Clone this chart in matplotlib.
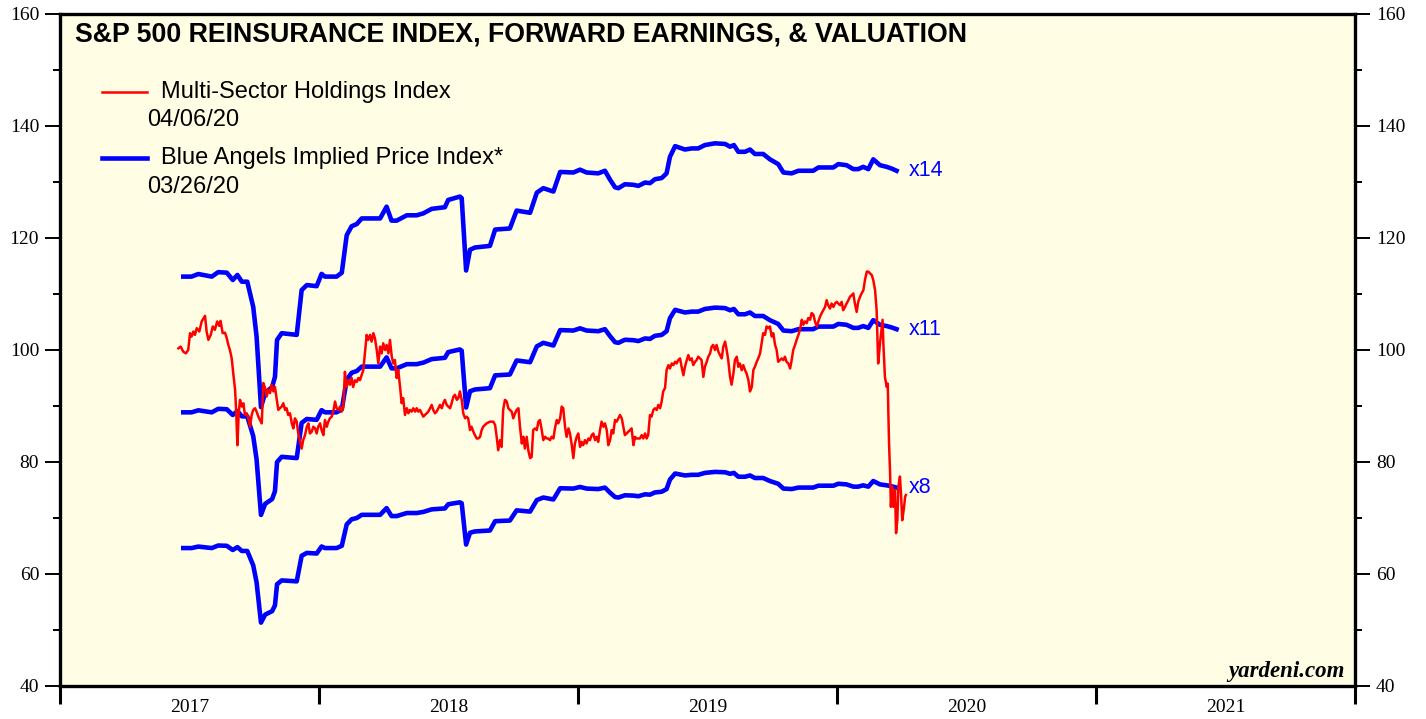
import matplotlib
matplotlib.use('Agg')
import matplotlib.pyplot as plt
from matplotlib.ticker import MultipleLocator, FixedLocator, NullFormatter, FixedFormatter

# Multi-Sector Holdings Index (daily), x in decimal years
msh_year = [
    2017.457, 2017.466, 2017.476, 2017.486, 2017.495, 2017.502, 2017.508, 2017.515, 2017.521, 2017.528,
    2017.538, 2017.547, 2017.560, 2017.566, 2017.573, 2017.582, 2017.590, 2017.598, 2017.607, 2017.615,
    2017.620, 2017.628, 2017.637, 2017.644, 2017.650, 2017.656, 2017.663, 2017.669, 2017.676, 2017.680,
    2017.685, 2017.690, 2017.695, 2017.702, 2017.708, 2017.714, 2017.721, 2017.727, 2017.734, 2017.740,
    2017.746, 2017.753, 2017.759, 2017.766, 2017.772, 2017.779, 2017.785, 2017.792, 2017.798, 2017.804,
    2017.811, 2017.817, 2017.824, 2017.830, 2017.837, 2017.843, 2017.849, 2017.856, 2017.862, 2017.869,
    2017.875, 2017.881, 2017.888, 2017.895, 2017.901, 2017.907, 2017.914, 2017.920, 2017.927, 2017.933,
    2017.939, 2017.946, 2017.953, 2017.959, 2017.965, 2017.972, 2017.978, 2017.985, 2017.991, 2017.997,
    2018.004, 2018.010, 2018.017, 2018.023, 2018.030, 2018.036, 2018.042, 2018.049, 2018.055, 2018.062,
    2018.068, 2018.075, 2018.081, 2018.088, 2018.094, 2018.100, 2018.107, 2018.113, 2018.120, 2018.126,
    2018.132, 2018.139, 2018.146, 2018.152, 2018.158, 2018.171, 2018.178, 2018.184, 2018.190, 2018.197,
    2018.203, 2018.210, 2018.216, 2018.223, 2018.229, 2018.236, 2018.242, 2018.248, 2018.255, 2018.261,
    2018.268, 2018.274, 2018.281, 2018.287, 2018.293, 2018.300, 2018.306, 2018.313, 2018.319, 2018.325,
    2018.332, 2018.339, 2018.345, 2018.351, 2018.358, 2018.364, 2018.371, 2018.377, 2018.383, 2018.390,
    2018.396, 2018.403, 2018.409, 2018.416, 2018.422, 2018.429, 2018.435, 2018.441, 2018.448, 2018.454,
    2018.461, 2018.467, 2018.474, 2018.480, 2018.486, 2018.493, 2018.499, 2018.506, 2018.512, 2018.519,
    2018.525, 2018.532, 2018.538, 2018.544, 2018.551, 2018.557, 2018.564, 2018.570, 2018.576, 2018.583,
    2018.589, 2018.596, 2018.602, 2018.609, 2018.615, 2018.622, 2018.628, 2018.634, 2018.647, 2018.660,
    2018.673, 2018.680, 2018.686, 2018.692, 2018.699, 2018.705, 2018.711, 2018.718, 2018.725, 2018.731,
    2018.737, 2018.744, 2018.750, 2018.757, 2018.763, 2018.770, 2018.776, 2018.783, 2018.789, 2018.795,
    2018.802, 2018.808, 2018.815, 2018.821, 2018.827, 2018.834, 2018.841, 2018.847, 2018.853, 2018.860,
    2018.866, 2018.873, 2018.879, 2018.885, 2018.892, 2018.898, 2018.905, 2018.911, 2018.918, 2018.924,
    2018.931, 2018.937, 2018.943, 2018.950, 2018.956, 2018.963, 2018.969, 2018.976, 2018.982, 2018.988,
    2018.995, 2019.001, 2019.008, 2019.014, 2019.020, 2019.027, 2019.033, 2019.040, 2019.046, 2019.053,
    2019.059, 2019.066, 2019.072, 2019.078, 2019.085, 2019.091, 2019.098, 2019.104, 2019.111, 2019.117,
    2019.124, 2019.130, 2019.136, 2019.143, 2019.149, 2019.156, 2019.162, 2019.169, 2019.175, 2019.181,
    2019.188, 2019.194, 2019.201, 2019.207, 2019.214, 2019.220, 2019.226, 2019.239, 2019.246, 2019.252,
    2019.259, 2019.265, 2019.271, 2019.278, 2019.284, 2019.291, 2019.297, 2019.304, 2019.310, 2019.317,
    2019.323, 2019.329, 2019.336, 2019.342, 2019.349, 2019.355, 2019.362, 2019.368, 2019.375, 2019.381,
    2019.387, 2019.394, 2019.400, 2019.407, 2019.413, 2019.420, 2019.426, 2019.432, 2019.439, 2019.445,
    2019.452, 2019.458, 2019.464, 2019.471, 2019.477, 2019.484, 2019.490, 2019.497, 2019.503, 2019.510,
    2019.516, 2019.522, 2019.529, 2019.535, 2019.542, 2019.548, 2019.555, 2019.561, 2019.568, 2019.574,
    2019.580, 2019.587, 2019.593, 2019.600, 2019.606, 2019.613, 2019.619, 2019.625, 2019.632, 2019.638,
    2019.645, 2019.651, 2019.658, 2019.664, 2019.671, 2019.677, 2019.683, 2019.690, 2019.696, 2019.703,
    2019.709, 2019.715, 2019.722, 2019.728, 2019.735, 2019.741, 2019.748, 2019.754, 2019.761, 2019.767,
    2019.773, 2019.780, 2019.786, 2019.793, 2019.799, 2019.805, 2019.812, 2019.819, 2019.825, 2019.831,
    2019.838, 2019.844, 2019.851, 2019.857, 2019.864, 2019.870, 2019.876, 2019.883, 2019.889, 2019.896,
    2019.902, 2019.909, 2019.915, 2019.922, 2019.928, 2019.934, 2019.941, 2019.947, 2019.954, 2019.960,
    2019.966, 2019.973, 2019.979, 2019.986, 2019.992, 2019.999, 2020.005, 2020.012, 2020.018, 2020.024,
    2020.031, 2020.037, 2020.044, 2020.050, 2020.057, 2020.063, 2020.069, 2020.076, 2020.082, 2020.089,
    2020.095, 2020.102, 2020.108, 2020.115, 2020.121, 2020.127, 2020.134, 2020.140, 2020.147, 2020.153,
    2020.159, 2020.166, 2020.173, 2020.176, 2020.179, 2020.185, 2020.192, 2020.196, 2020.198, 2020.201,
    2020.205, 2020.208, 2020.213, 2020.217, 2020.224, 2020.228, 2020.233, 2020.237, 2020.243, 2020.247,
    2020.252, 2020.259, 2020.263, 2020.266,
]
msh_idx = [
    100.3, 100.6, 99.7, 99.4, 100.0, 103.0, 102.4, 103.3, 102.7, 103.9,
    103.3, 105.1, 106.1, 103.3, 101.8, 102.7, 104.2, 103.6, 105.1, 104.3,
    105.2, 103.0, 103.1, 102.1, 100.9, 100.0, 98.5, 95.8, 92.9, 89.3,
    83.0, 88.7, 91.1, 89.9, 90.5, 88.4, 88.7, 87.8, 86.3, 88.4,
    89.3, 89.6, 89.0, 88.1, 87.5, 86.9, 94.1, 93.2, 91.7, 92.9,
    92.3, 93.8, 92.6, 93.4, 91.1, 89.3, 89.6, 89.9, 90.5, 89.3,
    89.6, 88.4, 88.7, 86.9, 86.0, 87.8, 87.2, 85.1, 83.6, 82.4,
    83.9, 84.8, 86.3, 86.9, 85.1, 85.4, 86.3, 86.0, 85.1, 86.3,
    86.9, 85.7, 84.8, 87.5, 86.3, 87.2, 87.8, 88.1, 89.0, 90.8,
    89.6, 89.3, 89.9, 89.0, 89.9, 96.1, 93.4, 94.6, 93.8, 95.0,
    93.4, 94.6, 94.3, 95.0, 94.6, 96.4, 99.7, 102.7, 101.8, 102.7,
    101.5, 103.0, 102.1, 100.0, 97.6, 100.6, 99.4, 101.2, 100.0, 100.9,
    99.4, 101.8, 98.8, 97.6, 98.2, 95.0, 96.4, 93.4, 90.5, 91.4,
    88.4, 89.6, 88.7, 89.3, 89.0, 89.6, 89.0, 89.6, 89.0, 89.3,
    88.7, 88.1, 88.4, 88.7, 89.0, 89.6, 90.2, 89.3, 88.7, 89.0,
    89.6, 90.2, 89.6, 90.5, 91.1, 90.2, 89.9, 89.6, 90.5, 91.7,
    92.0, 91.1, 91.4, 92.6, 91.1, 88.7, 87.8, 88.1, 87.8, 85.7,
    86.3, 85.4, 84.8, 84.2, 84.2, 84.5, 85.7, 86.3, 86.9, 87.2,
    87.2, 86.6, 84.5, 82.1, 83.9, 82.7, 89.3, 91.1, 90.8, 89.6,
    89.3, 89.0, 87.8, 88.7, 89.3, 89.6, 86.3, 83.3, 84.5, 82.4,
    84.5, 82.1, 80.7, 80.9, 85.7, 86.0, 85.7, 87.2, 87.5, 85.7,
    83.9, 84.5, 84.2, 84.2, 83.9, 84.5, 84.2, 86.0, 87.5, 86.9,
    87.8, 89.9, 89.6, 86.3, 84.5, 86.0, 85.1, 83.0, 80.7, 83.3,
    84.5, 85.1, 82.7, 83.6, 83.0, 83.9, 83.3, 84.2, 83.9, 84.8,
    85.1, 83.9, 84.5, 83.6, 85.7, 87.2, 86.3, 86.9, 85.7, 83.0,
    83.9, 85.7, 85.1, 87.5, 87.2, 87.8, 88.4, 87.8, 86.3, 84.8,
    85.1, 85.4, 85.7, 86.0, 83.0, 84.5, 84.2, 84.2, 84.8, 84.2,
    85.1, 84.2, 84.8, 88.4, 88.1, 89.3, 89.6, 89.3, 90.2, 89.6,
    90.8, 92.6, 93.2, 96.4, 97.3, 96.7, 97.6, 97.3, 97.9, 97.6,
    98.2, 98.5, 97.0, 95.5, 97.0, 98.2, 99.1, 98.2, 98.5, 97.3,
    97.9, 98.2, 98.8, 98.5, 98.2, 95.2, 97.0, 97.9, 98.8, 99.4,
    100.6, 100.9, 100.0, 100.9, 99.7, 99.1, 98.5, 100.6, 101.5, 100.0,
    98.2, 95.2, 93.8, 95.8, 98.2, 98.8, 97.0, 97.6, 96.4, 97.3,
    96.4, 95.8, 94.6, 92.6, 93.4, 96.4, 97.0, 97.9, 98.5, 99.4,
    101.2, 103.0, 102.7, 104.2, 103.9, 104.2, 102.4, 103.0, 100.9, 100.0,
    97.9, 98.2, 98.5, 98.2, 98.8, 97.9, 97.6, 96.7, 98.2, 100.0,
    100.9, 101.8, 102.7, 103.6, 105.4, 104.5, 105.1, 104.8, 105.7, 105.4,
    106.6, 106.3, 105.1, 104.2, 105.1, 105.9, 106.6, 107.1, 107.7, 108.9,
    108.0, 107.4, 108.3, 107.7, 108.3, 108.6, 108.3, 108.0, 108.6, 107.1,
    107.7, 108.3, 108.9, 109.5, 109.8, 110.1, 108.3, 106.8, 108.6, 109.5,
    110.1, 110.7, 112.5, 114.0, 114.0, 113.7, 113.4, 112.5, 110.7, 107.1,
    97.6, 101.2, 104.2, 105.4, 101.2, 95.2, 93.4, 94.0, 89.3, 83.3,
    78.0, 72.0, 75.6, 72.0, 75.0, 67.3, 69.6, 75.6, 77.4, 74.4,
    69.6, 72.0, 73.8, 74.1,
]

# Forward earnings index (weekly); blue lines = earnings x multiple
eps_year = [
    2017.476, 2017.508, 2017.534, 2017.586, 2017.611, 2017.644, 2017.667, 2017.685, 2017.702, 2017.723,
    2017.746, 2017.759, 2017.776, 2017.792, 2017.819, 2017.830, 2017.838, 2017.856, 2017.914, 2017.933,
    2017.953, 2017.991, 2018.010, 2018.023, 2018.068, 2018.088, 2018.107, 2018.126, 2018.146, 2018.165,
    2018.236, 2018.261, 2018.280, 2018.300, 2018.339, 2018.377, 2018.403, 2018.435, 2018.486, 2018.499,
    2018.544, 2018.551, 2018.568, 2018.583, 2018.602, 2018.660, 2018.680, 2018.737, 2018.763, 2018.815,
    2018.841, 2018.866, 2018.905, 2018.931, 2018.982, 2019.008, 2019.033, 2019.078, 2019.104, 2019.124,
    2019.143, 2019.156, 2019.181, 2019.214, 2019.233, 2019.259, 2019.278, 2019.297, 2019.323, 2019.342,
    2019.355, 2019.375, 2019.413, 2019.439, 2019.464, 2019.490, 2019.529, 2019.568, 2019.587, 2019.602,
    2019.619, 2019.645, 2019.664, 2019.683, 2019.715, 2019.741, 2019.773, 2019.793, 2019.825, 2019.851,
    2019.908, 2019.928, 2019.986, 2020.005, 2020.037, 2020.063, 2020.082, 2020.101, 2020.121, 2020.140,
    2020.166, 2020.192, 2020.211, 2020.230,
]
eps_val = [
    8.079, 8.079, 8.112, 8.079, 8.136, 8.129, 8.036, 8.100, 8.014, 8.014,
    7.693, 7.314, 6.414, 6.593, 6.671, 6.800, 7.271, 7.357, 7.336, 7.907,
    7.971, 7.957, 8.114, 8.079, 8.079, 8.129, 8.607, 8.721, 8.750, 8.821,
    8.821, 8.971, 8.793, 8.793, 8.861, 8.861, 8.886, 8.943, 8.964, 9.057,
    9.100, 9.079, 8.157, 8.421, 8.450, 8.471, 8.679, 8.693, 8.921, 8.893,
    9.150, 9.207, 9.164, 9.414, 9.407, 9.443, 9.407, 9.396, 9.429, 9.314,
    9.218, 9.207, 9.257, 9.250, 9.236, 9.279, 9.271, 9.321, 9.336, 9.396,
    9.607, 9.743, 9.700, 9.714, 9.714, 9.757, 9.779, 9.771, 9.736, 9.757,
    9.671, 9.671, 9.700, 9.643, 9.643, 9.575, 9.514, 9.407, 9.396, 9.429,
    9.429, 9.471, 9.471, 9.514, 9.500, 9.450, 9.450, 9.479, 9.450, 9.575,
    9.500, 9.479, 9.457, 9.429,
]
multiples = [14, 11, 8]

years = [2017, 2018, 2019, 2020, 2021]

serif = 'Liberation Serif'
sans = 'Liberation Sans'

fig = plt.figure(figsize=(14.26, 7.19), dpi=100)
ax = fig.add_axes([60 / 1426, 1 - 686 / 719, 1295 / 1426, 672 / 719])
ax.set_facecolor('#FFFEE4')

ax.plot(msh_year, msh_idx, color='#FF0000', lw=1.8, zorder=3)
for m in multiples:
    yy = [e * m for e in eps_val]
    ax.plot(eps_year, yy, color='#0000FF', lw=3.3, zorder=2, solid_joinstyle='round')
    ax.annotate(f'x{m}', (eps_year[-1], yy[-1]), xytext=(9, 0), textcoords='offset points',
                va='center', ha='left', color='#0000FF', fontsize=15.5, family=sans)

ax.set_xlim(2017, 2022)
ax.set_ylim(40, 160)

# axes styling
for s in ax.spines.values():
    s.set_linewidth(2.4)
ax.yaxis.set_major_locator(MultipleLocator(20))
ax.yaxis.set_minor_locator(MultipleLocator(10))
ax.tick_params(axis='y', which='major', direction='out', length=11, width=1.4,
               left=True, right=True, labelleft=True, labelright=True, labelsize=14, pad=4)
ax.tick_params(axis='y', which='minor', direction='out', length=5, width=1.4, left=True, right=True)
for lab in ax.get_yticklabels():
    lab.set_family(serif)

ax.xaxis.set_major_locator(FixedLocator(years + [2022]))
ax.xaxis.set_major_formatter(NullFormatter())
ax.xaxis.set_minor_locator(FixedLocator([y + 0.5 for y in years]))
ax.xaxis.set_minor_formatter(FixedFormatter([str(y) for y in years]))
ax.tick_params(axis='x', which='major', direction='out', length=13, width=2.2)
ax.tick_params(axis='x', which='minor', length=0, labelsize=14, pad=9)
for lab in ax.get_xticklabels(minor=True):
    lab.set_family(serif)

# title
ax.text(0.0116, 0.969, 'S&P 500 REINSURANCE INDEX, FORWARD EARNINGS, & VALUATION',
        transform=ax.transAxes, fontsize=19.3, fontweight='bold', family=sans, va='center', ha='left')

# legend
ax.plot([0.0324, 0.0672], [0.8839, 0.8839], color='#FF0000', lw=1.8, transform=ax.transAxes)
ax.text(0.0780, 0.8839, 'Multi-Sector Holdings Index', transform=ax.transAxes,
        fontsize=17, family=sans, va='center')
ax.text(0.0672, 0.8423, '04/06/20', transform=ax.transAxes, fontsize=17, family=sans, va='center')
ax.plot([0.0324, 0.0672], [0.7857, 0.7857], color='#0000FF', lw=3.3, transform=ax.transAxes)
ax.text(0.0780, 0.7857, 'Blue Angels Implied Price Index*', transform=ax.transAxes,
        fontsize=17, family=sans, va='center')
ax.text(0.0672, 0.7426, '03/26/20', transform=ax.transAxes, fontsize=17, family=sans, va='center')

ax.text(0.9923, 0.0223, 'yardeni.com', transform=ax.transAxes, fontsize=16.5, family=serif,
        fontweight='bold', fontstyle='italic', ha='right', va='center')

fig.savefig('out.png', dpi=100)
